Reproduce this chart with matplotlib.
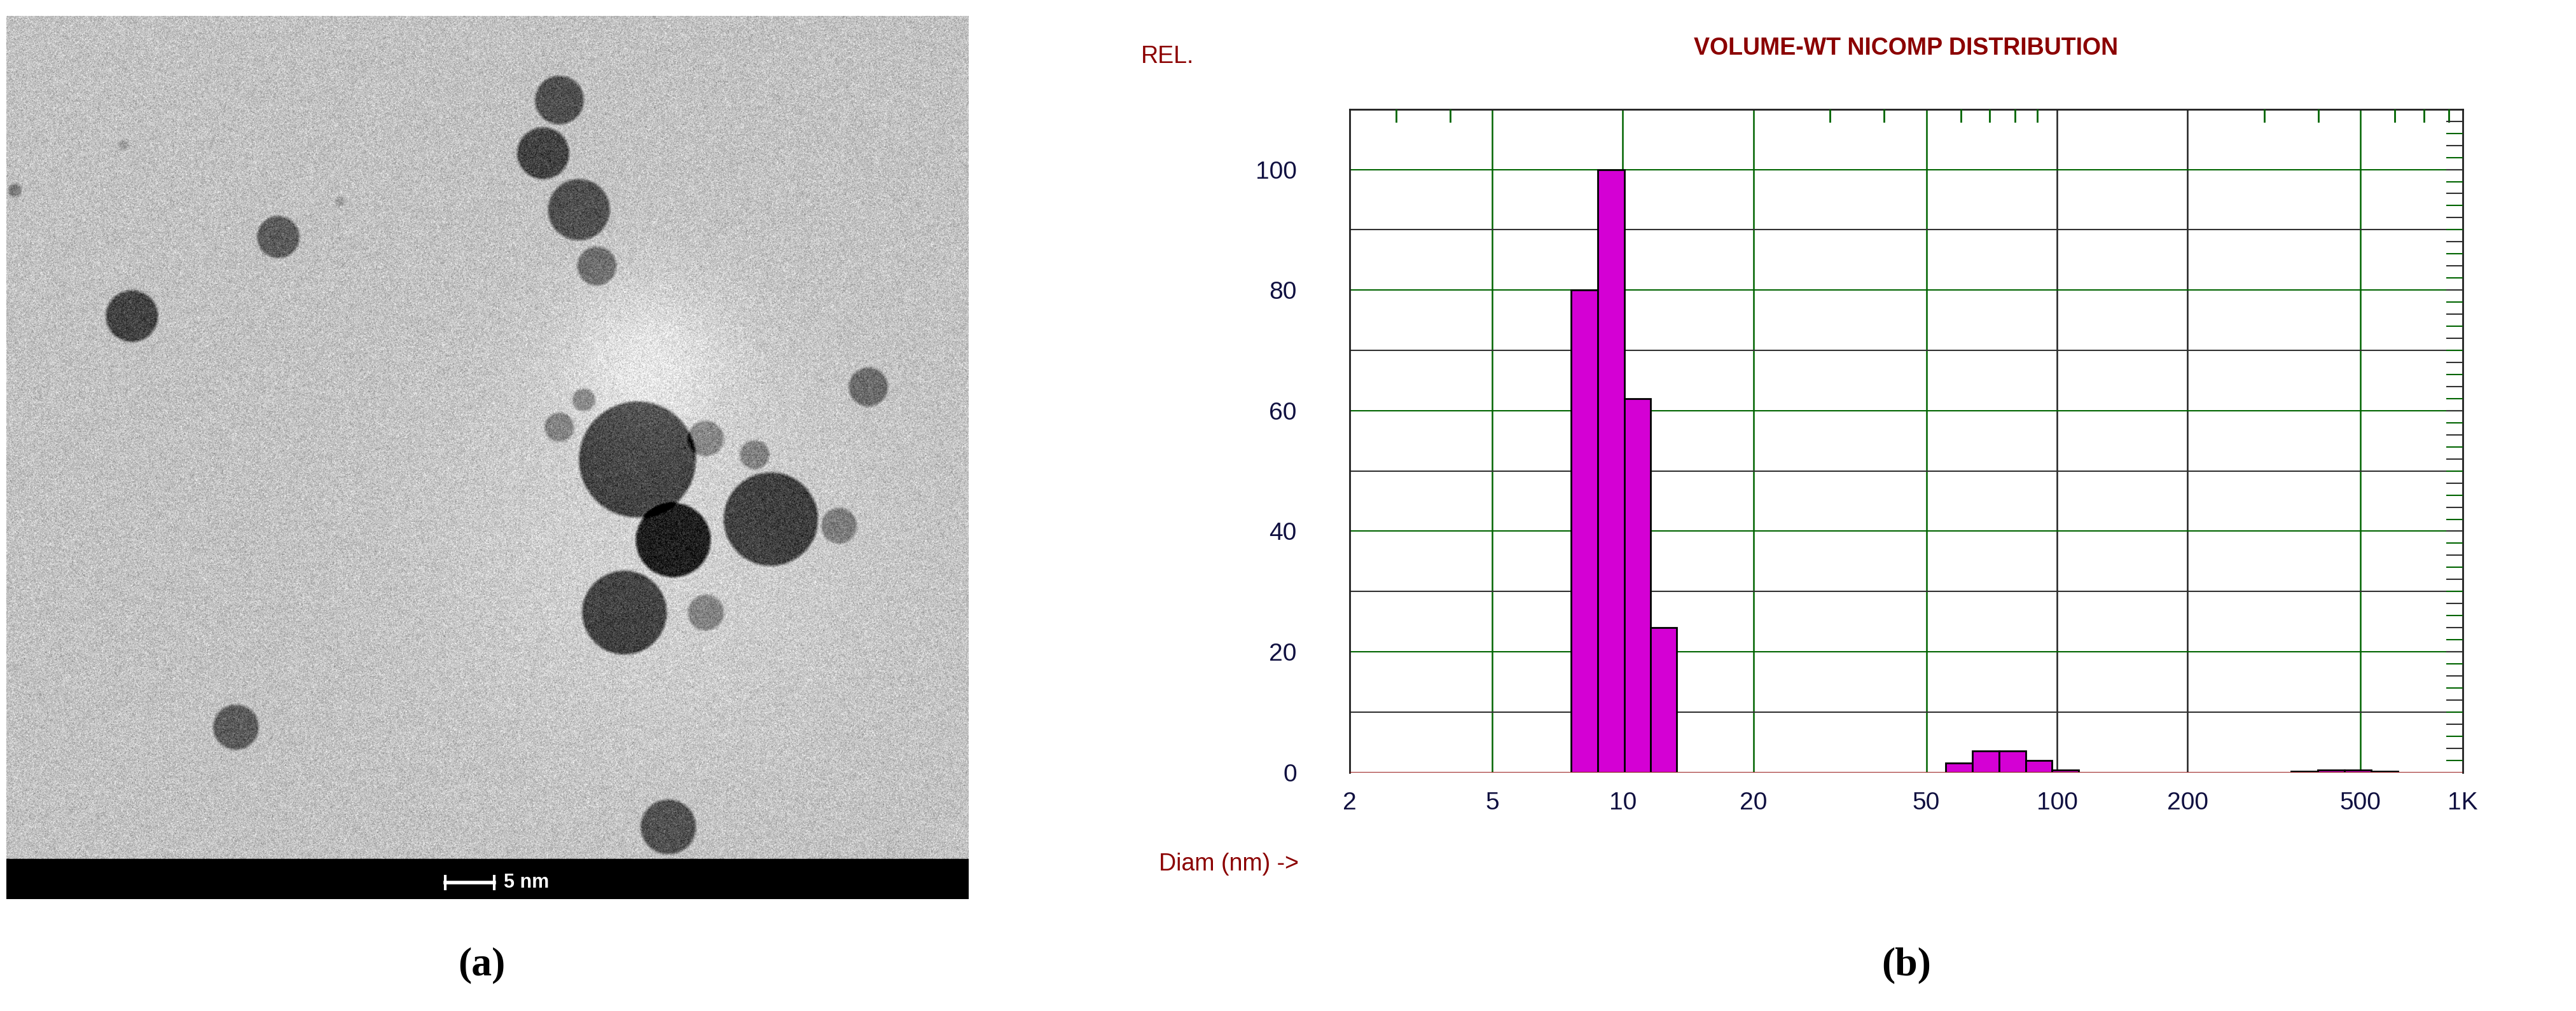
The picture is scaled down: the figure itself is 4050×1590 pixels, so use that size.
import numpy as np
import matplotlib.pyplot as plt

plt.rcParams['font.family'] = ['Liberation Sans', 'DejaVu Sans']

# histogram bins (nm) and relative volume
bin_edges = [7.6, 8.75, 10.07, 11.6, 13.3,
             55.4, 63.8, 73.5, 84.7, 97.5, 112.3,
             346, 399, 459, 529, 609]
bin_values = [80, 100, 62, 24,
              1.6, 3.6, 3.6, 2.0, 0.4,
              0.2, 0.4, 0.4, 0.2]
# which edges start a bar (index into bin_edges)
bar_starts = [0, 1, 2, 3, 5, 6, 7, 8, 9, 11, 12, 13, 14]

x_lo, x_hi = 2.35, 860
x_ticks = [x_lo, 5, 10, 20, 50, 100, 200, 500, x_hi]
x_labels = ['2', '5', '10', '20', '50', '100', '200', '500', '1K']
grid_x = [5, 10, 20, 50, 100, 200, 500]
y_ticks = [0, 20, 40, 60, 80, 100]

# TEM particles: x, y, radius (in image px of 592x548), darkness
px = [340, 330, 352, 363, 167, 77, 530, 388, 410, 470, 512, 380, 430, 340, 355, 430, 460, 141, 407, 5, 72, 205]
py = [52, 85, 120, 155, 137, 186, 230, 275, 325, 312, 316, 370, 370, 255, 238, 262, 272, 441, 503, 108, 80, 115]
pr = [16, 17, 20, 13, 14, 17, 13, 37, 24, 30, 12, 27, 12, 10, 8, 12, 10, 15, 18, 5, 4, 4]
pd = [0.45, 0.5, 0.45, 0.35, 0.4, 0.5, 0.35, 0.55, 0.7, 0.55, 0.3, 0.55, 0.3, 0.3, 0.3, 0.3, 0.3, 0.4, 0.45, 0.3, 0.15, 0.15]

fig = plt.figure(figsize=(40.5, 15.9), dpi=100)

# ---- (a) TEM image
W, H = 1184, 1096
yy, xx = np.mgrid[0:H, 0:W] / 2.0
rng = np.random.default_rng(3)
img = 0.76 + 0.08 * rng.standard_normal((H, W))
img += 0.12 * np.exp(-((xx - 395) ** 2 + (yy - 215) ** 2) / (2 * 35 ** 2))
img += 0.06 * np.exp(-((xx - 400) ** 2 + (yy - 330) ** 2) / (2 * 90 ** 2))
for x, y, r, d in zip(px, py, pr, pd):
    dist = np.sqrt((xx - x) ** 2 + (yy - y) ** 2)
    mask = np.clip((r - dist) / 2.0, 0, 1)
    img -= mask * d
img = np.clip(img, 0, 1)
img[int(H * 0.955):, :] = 0.0

axa = fig.add_axes([0.0025, 0.111, 0.3735, 0.873])
axa.imshow(img, cmap='gray', vmin=0, vmax=1, aspect='auto', extent=[0, 592, 548, 0])
axa.plot([270, 300], [538, 538], color='white', lw=4)
axa.plot([270, 270], [534, 542], color='white', lw=3)
axa.plot([300, 300], [534, 542], color='white', lw=3)
axa.text(306, 538, '5 nm', color='white', fontsize=22, fontweight='bold', va='center')
axa.set_xlim(0, 592)
axa.set_ylim(548, 0)
axa.axis('off')
fig.text(0.187, 0.045, '(a)', fontsize=46, fontweight='bold', ha='center', va='center',
         family='Liberation Serif')

# ---- (b) histogram
ax = fig.add_axes([0.524, 0.236, 0.432, 0.656])
lefts = [bin_edges[i] for i in bar_starts]
widths = [bin_edges[i + 1] - bin_edges[i] for i in bar_starts]
ax.bar(lefts, bin_values, width=widths, align='edge', color='#d400d4',
       edgecolor='black', linewidth=2, zorder=3)
ax.set_xscale('log')
ax.set_xlim(x_lo, x_hi)
ax.set_ylim(0, 110)
ax.axhline(0, color='#8b0000', lw=2, zorder=4)

for v in grid_x:
    ax.axvline(v, color='#006400' if v in (5, 10, 20, 50, 500) else '#202020', lw=1.8, zorder=1)
for v in range(10, 110, 10):
    ax.axhline(v, color='#006400' if v % 20 == 0 else '#303030', lw=1.5, zorder=1)

ax.set_xticks(x_ticks)
ax.set_xticklabels(x_labels)
ax.xaxis.set_minor_locator(plt.NullLocator())
ax.set_yticks(y_ticks)
ax.tick_params(axis='both', length=0, labelsize=28, labelcolor='#101040', pad=22)
ax.tick_params(axis='y', pad=60)

# top ticks and right ticks
for v in [3, 4, 30, 40, 60, 70, 80, 90, 300, 400, 600, 700, 800]:
    ax.plot([v, v], [110, 108], color='#006400', lw=2, zorder=5)
for k in range(1, 55):
    yv = k * 2
    ax.plot([790, x_hi], [yv, yv], color='#006400' if k % 2 else '#303030', lw=1.5, zorder=5)

for s in ax.spines.values():
    s.set_color('#202020')
    s.set_linewidth(2)
ax.spines['bottom'].set_visible(False)

fig.text(0.74, 0.952, 'VOLUME-WT NICOMP DISTRIBUTION', fontsize=27, fontweight='bold',
         color='#8b0000', ha='center', va='center')
fig.text(0.443, 0.944, 'REL.', fontsize=27, color='#8b0000', ha='left', va='center')
fig.text(0.450, 0.145, 'Diam (nm) ->', fontsize=27, color='#8b0000', ha='left', va='center')
fig.text(0.74, 0.045, '(b)', fontsize=46, fontweight='bold', ha='center', va='center',
         family='Liberation Serif')

fig.savefig('out.png', dpi=100, facecolor='white')
